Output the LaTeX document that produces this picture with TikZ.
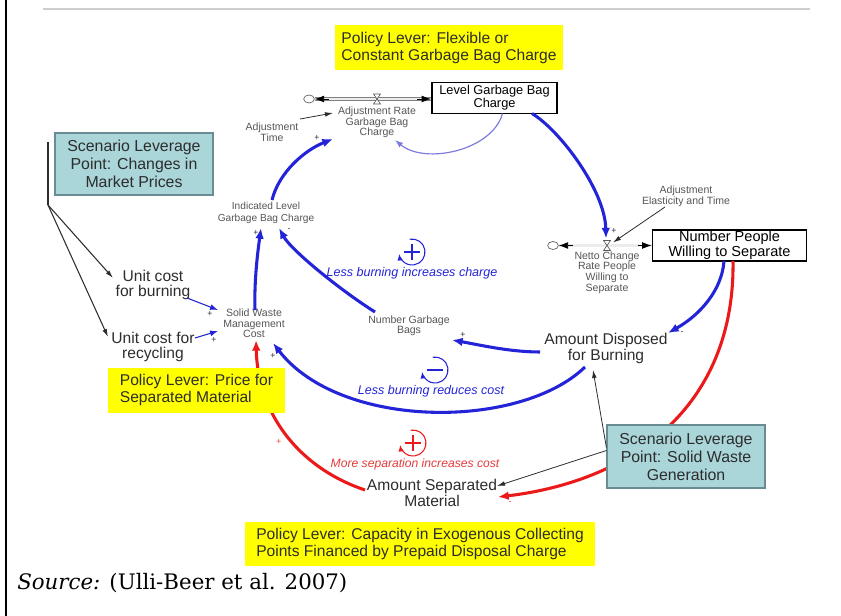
\documentclass[tikz,border=0pt]{standalone}
\usepackage{fontspec}
\setmainfont{Liberation Sans}
\newfontfamily\srcfont{DejaVu Serif}
\usetikzlibrary{arrows.meta,calc,shapes.geometric}

\definecolor{loopblue}{RGB}{35,35,215}
\definecolor{paleblue}{RGB}{125,125,225}
\definecolor{loopred}{RGB}{235,25,25}
\definecolor{labelred}{RGB}{225,60,60}
\definecolor{leveryellow}{RGB}{255,255,0}
\definecolor{scenfill}{RGB}{170,213,217}
\definecolor{scenedge}{RGB}{105,140,148}
\definecolor{ink}{RGB}{45,45,45}
\definecolor{vgray}{RGB}{85,85,85}
\definecolor{rulegray}{RGB}{205,205,205}

\tikzset{
  lbl/.style={font=\fontsize{11.7}{10.8}\selectfont, text=ink, align=center, inner sep=0pt},
  vsm/.style={font=\fontsize{7.9}{7.9}\selectfont, text=vgray, align=center, inner sep=0pt},
  stockbox/.style={draw=black, line width=1.4pt, fill=white, align=center, inner sep=0pt, text=black},
  leverbox/.style={fill=leveryellow, text=ink, font=\fontsize{11.7}{13}\selectfont, align=left, inner sep=0pt},
  scenbox/.style={fill=scenfill, draw=scenedge, line width=0.9pt, text=ink, font=\fontsize{11.9}{13.5}\selectfont, align=center, inner sep=0pt},
  bluelink/.style={draw=loopblue, line width=2.3pt, -{Latex[length=8pt,width=6.5pt]}},
  redlink/.style={draw=loopred, line width=2.3pt, -{Latex[length=8pt,width=6.5pt]}},
  thinlink/.style={draw=loopblue, line width=0.8pt, -{Latex[length=6pt,width=4.5pt]}},
  palelink/.style={draw=paleblue, line width=0.9pt, -{Latex[length=6pt,width=4.5pt]}},
  infolink/.style={draw=ink, line width=0.6pt, -{Latex[length=6pt,width=3.5pt]}},
  pipe/.style={draw=gray, double=gray!15, double distance=1.8pt, line width=0.5pt},
  pipetip/.style={draw=black, line width=0.5pt, -{Latex[length=7pt,width=5pt]}},
  valveshape/.style={draw=gray!70!black, fill=white, line width=0.5pt},
  polmark/.style={font=\fontsize{6.5}{6.5}\selectfont, inner sep=0pt},
  looptxt/.style={font=\fontsize{9.4}{9.4}\selectfont\itshape, inner sep=0pt},
  cloudnode/.style={ellipse, draw=gray!70!black, line width=0.5pt, minimum width=8pt, minimum height=6pt, inner sep=0pt},
  loopsym/.style={line width=0.8pt, -{Latex[length=5pt,width=4pt]}},
}

\begin{document}
\begin{tikzpicture}[x=0.75pt,y=-0.75pt]
\useasboundingbox (0,0) rectangle (841,616);

% page frame: left rule and header rule
\draw[line width=1.9pt] (6,0) -- (6,616);
\draw[rulegray, line width=1.3pt] (43,9) -- (810,9);

% ---------- stocks, clouds and flows ----------
\node[stockbox, minimum width=93.75pt, minimum height=23.25pt, font=\fontsize{9.6}{8.6}\selectfont] (lgb) at (494.5,98) {Level Garbage Bag\\Charge};
\node[stockbox, minimum width=115.5pt, minimum height=23.25pt, font=\fontsize{10.9}{9.9}\selectfont] (npws) at (729.5,245.5) {Number People\\Willing to Separate};

\node[cloudnode] (c1) at (309,99) {};
\node[cloudnode] (c2) at (553,245.5) {};

\draw[pipe] (c1.east) -- (c1 -| lgb.west);
\draw[pipetip] ($(c1.east)+(14,0)$) -- (c1.east);
\draw[pipetip] ($(c1 -| lgb.west)+(-14,0)$) -- (c1 -| lgb.west);
\coordinate (v1) at (377,99);
\draw[valveshape] ($(v1)+(-3.5,-5)$) -- ($(v1)+(3.5,-5)$) -- ($(v1)+(-3.5,5)$) -- ($(v1)+(3.5,5)$) -- cycle;

\draw[pipe] (c2.east) -- (npws.west);
\draw[pipetip] ($(c2.east)+(14,0)$) -- (c2.east);
\draw[pipetip] ($(npws.west)+(-14,0)$) -- (npws.west);
\coordinate (v2) at (607,245.5);
\draw[valveshape] ($(v2)+(-3.5,-5)$) -- ($(v2)+(3.5,-5)$) -- ($(v2)+(-3.5,5)$) -- ($(v2)+(3.5,5)$) -- cycle;

% ---------- auxiliary variables ----------
\node[vsm] (arl) at (377,122.5) {Adjustment Rate\\Garbage Bag\\Charge};
\node[vsm] (adt) at (272,132) {Adjustment\\Time};
\node[vsm] (aet) at (686,196.5) {Adjustment\\Elasticity and Time};
\node[vsm] (ncr) at (607,272.5) {Netto Change\\Rate People\\Willing to\\Separate};
\node[vsm, font=\fontsize{7.6}{9}\selectfont] (ilg) at (266,213) {Indicated Level\\Garbage Bag Charge};
\node[vsm] (ngb) at (409,326) {Number Garbage\\Bags};
\node[vsm] (sw) at (254,323.5) {Solid Waste\\Management\\Cost};
\node[lbl] (ad) at (606,348.5) {Amount Disposed\\for Burning};
\node[lbl] (ucb) at (153,285) {Unit cost\\for burning};
\node[lbl] (ucr) at (153,347) {Unit cost for\\recycling};
\node[lbl] (as) at (432,492.5) {Amount Separated\\Material};

% ---------- causal links ----------
\draw[infolink] ($(adt)+(28,-13)$) -- ($(arl)+(-44,-9.5)$);
\draw[palelink] ($(lgb)+(8,15.5)$) .. controls +(-10,37) and +(30,25) .. ($(arl)+(18,17.5)$);
\draw[bluelink] ($(ilg)+(6,-13)$) .. controls +(7,-28) and +(-28,11) .. ($(arl)+(-44,16.5)$);
\draw[bluelink] ($(lgb)+(37.5,15.5)$) .. controls +(28,17) and +(-1,-48) .. ($(v2)+(-1,-7)$);
\draw[infolink] ($(aet)+(-21,10.5)$) -- ($(v2)+(6,-3)$);
\draw[bluelink] ($(npws)+(-5.5,15.5)$) .. controls +(-2,29) and +(32,-18) .. ($(ad)+(62,-15.5)$);
\draw[redlink] ($(npws)+(3.5,15.5)$) .. controls +(2,139) and +(142,-17) .. ($(as)+(66,4.5)$);
\draw[bluelink] ($(ad)+(-66,3.5)$) .. controls +(-30,0) and +(28,5) .. ($(ngb)+(43,14)$);
\draw[bluelink] ($(ngb)+(-34,-14)$) .. controls +(-35,-22) and +(12,22) .. ($(ilg)+(13,15)$);
\draw[bluelink] ($(sw)+(1,-13.5)$) .. controls +(-1,-30) and +(-3,22) .. ($(ilg)+(-5,15)$);
\draw[thinlink] ($(ucb)+(34,13)$) -- ($(sw)+(-36,-13.5)$);
\draw[thinlink] ($(ucr)+(42,-9)$) -- ($(sw)+(-36,7.5)$);
\draw[bluelink] ($(ad)+(-21,18.5)$) .. controls +(-65,63) and +(67,87) .. ($(sw)+(19,19.5)$);
\draw[redlink] ($(as)+(-67,-2.5)$) .. controls +(-60,-20) and +(2,80) .. ($(sw)+(2,16.5)$);

% ---------- scenario leverage points ----------
\node[scenbox, minimum width=118.5pt, minimum height=46.5pt] (sl) at (134,164) {Scenario Leverage\\Point: Changes in\\Market Prices};
\node[scenbox, minimum width=118.5pt, minimum height=47.25pt] (sr) at (686,456.5) {Scenario Leverage\\Point: Solid Waste\\Generation};

\draw[infolink] ($(sr.west)+(0,-9)$) -- ($(ad)+(-13,21.5)$);
\draw[infolink] ($(sr.west)+(0,-6)$) -- ($(as)+(65,-6.5)$);

\coordinate (brt) at (48,142);
\coordinate (brb) at (48,205);
\draw[ink, line width=0.8pt] (brt) -- (brb);
\draw[infolink, line width=0.8pt] (brb) -- ($(ucb)+(-40,-7)$);
\draw[infolink, line width=0.8pt] (brb) -- ($(ucr)+(-45,-10)$);

% ---------- policy levers ----------
\node[leverbox, minimum width=171pt, minimum height=33.75pt] (ltop) at (449,48) {Policy Lever: Flexible or\\Constant Garbage Bag Charge};
\node[leverbox, minimum width=132.75pt, minimum height=33.75pt] (lprice) at (196.5,390) {Policy Lever: Price for\\Separated Material};
\node[leverbox, minimum width=262.5pt, minimum height=33pt] (lcap) at (420,544) {Policy Lever: Capacity in Exogenous Collecting\\Points Financed by Prepaid Disposal Charge};

% ---------- polarity marks ----------
\node[polmark, text=ink] (p1) at (317,138) {+};
\node[polmark, text=ink] (p2) at (614,231) {+};
\node[polmark, text=ink] (p3) at (682,333) {-};
\node[polmark, text=ink] (p4) at (463,335) {+};
\node[polmark, text=ink] (p5) at (256,233) {+};
\node[polmark, text=ink] (p6) at (289,230) {-};
\node[polmark, text=ink] (p7) at (210,314) {+};
\node[polmark, text=ink] (p8) at (214,340) {+};
\node[polmark, text=ink] (p9) at (273,356) {+};
\node[polmark, text=labelred] (p10) at (279,442) {+};
\node[polmark, text=labelred] (p11) at (510,503) {-};

% ---------- loop identifiers ----------
\coordinate (loopA) at (412,252);
\draw[loopblue, loopsym] ($(loopA)+(-100:13)$) arc[start angle=-100, end angle=172, radius=13];
\draw[loopblue, line width=0.8pt] ($(loopA)+(-8,0)$) -- ($(loopA)+(8,0)$) ($(loopA)+(0,-8)$) -- ($(loopA)+(0,8)$);
\node[looptxt, text=loopblue] (lblA) at (412,273) {Less burning increases charge};

\coordinate (loopB) at (435,370);
\draw[loopblue, loopsym] ($(loopB)+(-100:13)$) arc[start angle=-100, end angle=172, radius=13];
\draw[loopblue, line width=0.8pt] ($(loopB)+(-8,0)$) -- ($(loopB)+(8,0)$);
\node[looptxt, text=loopblue] (lblB) at (431,391) {Less burning reduces cost};

\coordinate (loopC) at (413,443);
\draw[loopred, loopsym] ($(loopC)+(-100:13)$) arc[start angle=-100, end angle=172, radius=13];
\draw[loopred, line width=0.8pt] ($(loopC)+(-8,0)$) -- ($(loopC)+(8,0)$) ($(loopC)+(0,-8)$) -- ($(loopC)+(0,8)$);
\node[looptxt, text=labelred, font=\fontsize{9.1}{9.1}\selectfont\itshape] (lblC) at (415,464) {More separation increases cost};

% ---------- source line ----------
\node[anchor=west, inner sep=0pt, font=\srcfont\fontsize{16}{16}\selectfont] (src) at (17,583) {\textit{Source:} (Ulli-Beer et al. 2007)};
\end{tikzpicture}
\end{document}
